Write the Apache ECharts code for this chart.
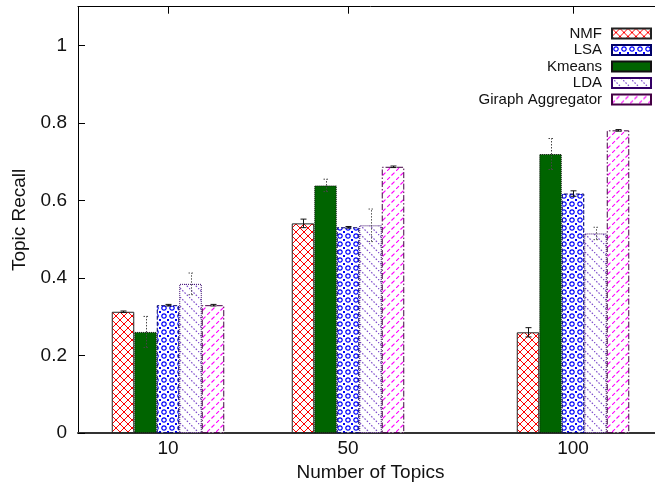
<!DOCTYPE html>
<html><head><meta charset="utf-8">
<script src="https://cdn.jsdelivr.net/npm/echarts@6/dist/echarts.min.js"></script>
<style>html,body{margin:0;padding:0;background:#fff;overflow:hidden;width:655px;height:487px}#c{width:663px;height:487px}</style>
</head><body><div id="c"></div>
<script>
// ---- data ----
const topics = [10, 50, 100];
const yTicks = [0, 0.2, 0.4, 0.6, 0.8, 1];
const seriesNames = ['NMF', 'Kmeans', 'LSA', 'LDA', 'Giraph Aggregator'];
const legendOrder = ['NMF', 'LSA', 'Kmeans', 'LDA', 'Giraph Aggregator'];
const nmf     = [0.313, 0.541, 0.260];
const kmeans  = [0.261, 0.639, 0.720];
const lsa     = [0.330, 0.531, 0.618];
const lda     = [0.385, 0.536, 0.515];
const giraph  = [0.330, 0.687, 0.781];
const nmfErr    = [0.002, 0.011, 0.012];
const kmeansErr = [0.040, 0.016, 0.040];
const lsaErr    = [0.002, 0.002, 0.007];
const ldaErr    = [0.028, 0.042, 0.016];
const giraphErr = [0.002, 0.002, 0.002];

const values = [nmf, kmeans, lsa, lda, giraph];
const errors = [nmfErr, kmeansErr, lsaErr, ldaErr, giraphErr];

// ---- patterns ----
function pat(size, draw) {
  const c = document.createElement('canvas');
  c.width = size; c.height = size;
  const ctx = c.getContext('2d');
  ctx.fillStyle = '#fff'; ctx.fillRect(0, 0, size, size);
  draw(ctx, size);
  return { image: c, repeat: 'repeat' };
}
const nmfPat = pat(8, (ctx, s) => {
  ctx.strokeStyle = '#ff0000'; ctx.lineWidth = 1;
  ctx.beginPath();
  ctx.moveTo(-1, -1); ctx.lineTo(s + 1, s + 1);
  ctx.moveTo(s + 1, -1); ctx.lineTo(-1, s + 1);
  ctx.stroke();
});
const lsaPat = pat(8, (ctx, s) => {
  ctx.strokeStyle = '#0000ff'; ctx.fillStyle = '#0000ff'; ctx.lineWidth = 1.2;
  ctx.beginPath(); ctx.arc(4, 4, 2.2, 0, Math.PI * 2); ctx.stroke();
  [[0, 0], [s, 0], [0, s], [s, s]].forEach(p => { ctx.fillRect(p[0] - 1, p[1] - 1, 2, 2); });
});
const ldaPat = pat(9, (ctx, s) => {
  ctx.strokeStyle = '#8050cc'; ctx.lineWidth = 1.2;
  ctx.setLineDash([1.6, 1.6]);
  ctx.beginPath(); ctx.moveTo(0, 0); ctx.lineTo(s, s); ctx.stroke();
});
const giraphPat = pat(9, (ctx, s) => {
  ctx.strokeStyle = '#ff00ff'; ctx.lineWidth = 1.1;
  ctx.setLineDash([4.2, 2.16]);
  ctx.beginPath(); ctx.moveTo(0, s); ctx.lineTo(s, 0); ctx.stroke();
});

const styles = [
  { color: nmfPat, borderColor: '#222', borderWidth: 1, borderType: 'solid' },
  { color: '#006400', borderColor: '#111', borderWidth: 1, borderType: 'dotted' },
  { color: lsaPat, borderColor: '#000066', borderWidth: 1, borderType: 'dashed' },
  { color: ldaPat, borderColor: '#330066', borderWidth: 1, borderType: 'dotted' },
  { color: giraphPat, borderColor: '#440044', borderWidth: 1, borderType: [6, 2, 1.5, 2] }
];
const errStyles = [
  { stroke: '#111', lineDash: null },
  { stroke: '#444', lineDash: [1.5, 1.5] },
  { stroke: '#111', lineDash: null },
  { stroke: '#555', lineDash: [1.5, 1.5] },
  { stroke: '#111', lineDash: null }
];

const BAR_W = 22.5;
const FONT = "'Liberation Sans', Arial, Helvetica, sans-serif";

const series = [];
seriesNames.forEach((name, k) => {
  series.push({
    name: name, type: 'bar', barWidth: BAR_W, barGap: '0%',
    itemStyle: styles[k],
    data: topics.map((t, i) => [t, values[k][i]]),
    z: 2
  });
});
seriesNames.forEach((name, k) => {
  const off = (k - 2) * BAR_W;
  series.push({
    name: name + ' err', type: 'custom', z: 5, silent: true,
    data: topics.map((t, i) => [t, values[k][i] - errors[k][i], values[k][i] + errors[k][i]]),
    renderItem: (params, api) => {
      const x = api.value(0);
      const p1 = api.coord([x, api.value(1)]);
      const p2 = api.coord([x, api.value(2)]);
      const cx = Math.round(p1[0] + off) + 0.5;
      const st = { stroke: errStyles[k].stroke, lineWidth: 1, lineDash: errStyles[k].lineDash, fill: null };
      return { type: 'group', children: [
        { type: 'line', shape: { x1: cx, y1: p1[1], x2: cx, y2: p2[1] }, style: st },
        { type: 'line', shape: { x1: cx - 3, y1: p1[1], x2: cx + 3, y2: p1[1] }, style: st },
        { type: 'line', shape: { x1: cx - 3, y1: p2[1], x2: cx + 3, y2: p2[1] }, style: st }
      ]};
    }
  });
});

const chart = echarts.init(document.getElementById('c'), null, { renderer: 'canvas' });
chart.setOption({
  animation: false,
  backgroundColor: '#fff',
  textStyle: { fontFamily: FONT },
  grid: { left: 78, right: 0, top: 6.7, bottom: 49.7 },
  legend: {
    data: legendOrder, orient: 'vertical', right: 11, top: 26, align: 'right',
    icon: 'rect',
    itemWidth: 39, itemHeight: 10, itemGap: 1.5, padding: 0,
    textStyle: { fontSize: 15, color: '#111', fontFamily: FONT, lineHeight: 15, padding: [0, 5, 0, 0] }
  },
  xAxis: [
    {
      type: 'value', position: 'bottom', min: -10, max: 120,
      axisLine: { show: true, onZero: false, lineStyle: { color: '#333', width: 2 } },
      axisTick: { show: true, inside: true, length: 7, customValues: topics, lineStyle: { color: '#000' } },
      axisLabel: { customValues: topics, fontSize: 19, color: '#111', margin: 6, fontFamily: FONT },
      splitLine: { show: false },
      name: 'Number of Topics', nameLocation: 'middle', nameGap: 24,
      nameTextStyle: { fontSize: 19, color: '#111', fontFamily: FONT }
    },
    {
      type: 'value', position: 'top', min: -10, max: 120,
      axisLine: { show: true, onZero: false, lineStyle: { color: '#000', width: 1 } },
      axisTick: { show: true, inside: true, length: 7, customValues: topics, lineStyle: { color: '#000' } },
      axisLabel: { show: false },
      splitLine: { show: false }
    }
  ],
  yAxis: {
    type: 'value', min: 0, max: 1.1,
    axisLine: { show: true, onZero: false, lineStyle: { color: '#000', width: 1 } },
    axisTick: { show: true, inside: true, length: 7, customValues: yTicks, lineStyle: { color: '#000' } },
    axisLabel: { customValues: yTicks, fontSize: 19, color: '#111', margin: 11, fontFamily: FONT },
    splitLine: { show: false },
    name: 'Topic Recall', nameLocation: 'middle', nameGap: 48, nameRotate: 90,
    nameTextStyle: { fontSize: 19, color: '#111', fontFamily: FONT }
  },
  series: series
});
</script></body></html>
